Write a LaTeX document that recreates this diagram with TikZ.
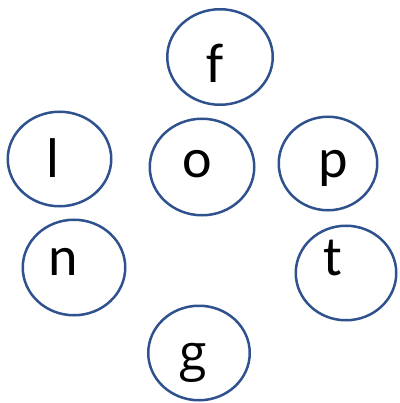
\documentclass[tikz,border=0pt]{standalone}
\usepackage{fontspec}
\setmainfont{Carlito}
\newfontfamily\gfont{Open Sans}
\usetikzlibrary{shapes.geometric}
\definecolor{ringblue}{HTML}{2F528F}
\tikzset{
    ring/.style={draw=ringblue, line width=2.5pt, ellipse, inner sep=0pt},
    letter/.style={anchor=base, inner sep=0pt, font=\fontsize{56}{60}\selectfont}
}

\begin{document}
\begin{tikzpicture}[x=1pt, y=-1pt]

        \useasboundingbox (0,0) rectangle (399,403);

        \foreach \n/\x/\y/\w/\h in {f/220/57/105.5/95.5, l/59.5/159/103.5/94.5, o/202/167/104.5/96.5,
                p/328/163.5/98.5/93.5, n/74/267.5/102.5/95.5, t/346/273/100.5/94.5, g/199/353/101.5/94.5}
            \node[ring, minimum width=\w pt, minimum height=\h pt] (ring-\n) at (\x,\y) {};
        ;

        \foreach \n/\x/\y in {f/215/83, l/53/177, o/197/178, p/333/177, n/63/275, t/333/275}
            \node[letter] (letter-\n) at (\x,\y) {\n};
        ;
        \node[letter, font=\gfont\fontsize{50}{56}\selectfont] (letter-g) at (193,370) {g};
    \end{tikzpicture}
\end{document}
